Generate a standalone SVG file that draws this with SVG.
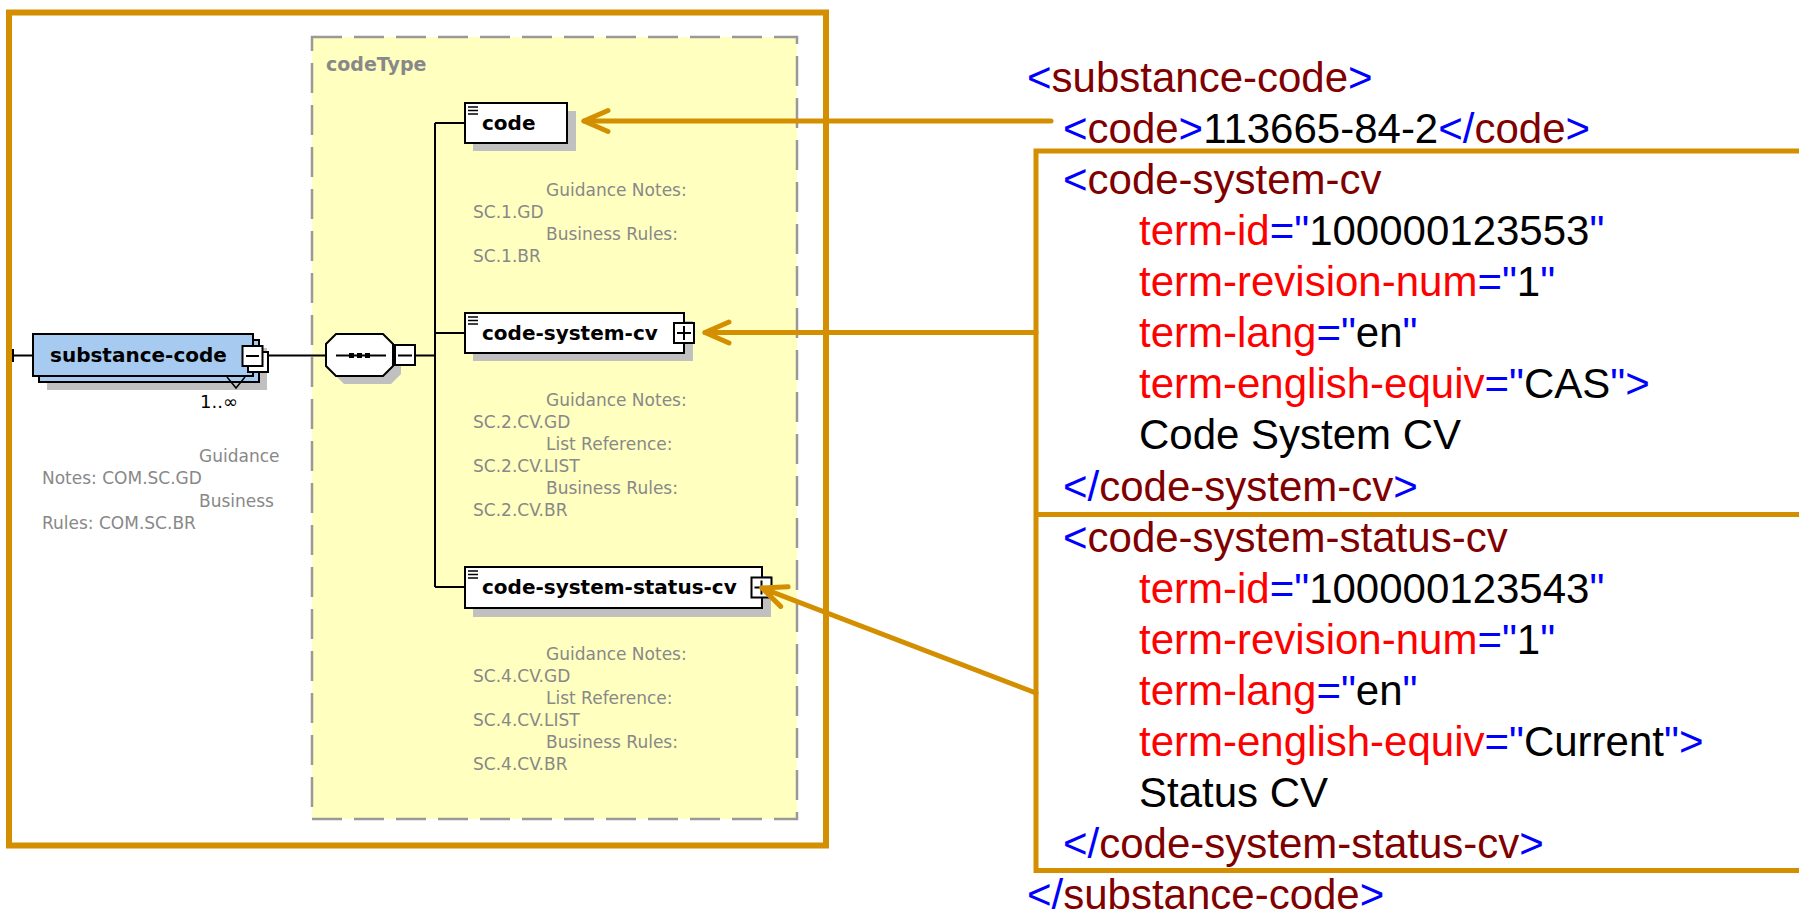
<svg xmlns="http://www.w3.org/2000/svg" width="1799" height="915" viewBox="0 0 1799 915">
<style>
.frame{fill:none;stroke:#D38F00;stroke-width:6}
.obox{fill:none;stroke:#D38F00;stroke-width:5}
.arr{fill:none;stroke:#D38F00;stroke-width:5;stroke-linecap:round}
.ln{fill:none;stroke:#000;stroke-width:2}
.el{fill:#fff;stroke:#000;stroke-width:2}
.sh{fill:#C0C0C0}
.lbl{font-family:"DejaVu Sans",Verdana,sans-serif;font-weight:bold;font-size:20px;fill:#000}
.note{font-family:"DejaVu Sans",Verdana,sans-serif;font-size:17px;fill:#888}
.x{font-family:"Liberation Sans",Arial,sans-serif;font-size:42px;fill:#000}
.b{fill:#0000FF}.m{fill:#800000}.r{fill:#FF0000}.k{fill:#000}
</style>
<defs>
<marker id="ah" markerUnits="userSpaceOnUse" viewBox="-30 -20 40 40" markerWidth="40" markerHeight="40" refX="0" refY="0" orient="auto">
<path d="M -24 -10.5 L 0 0 L -24 10.5" fill="none" stroke="#D38F00" stroke-width="5" stroke-linecap="round" stroke-linejoin="round"/>
</marker>
<g id="menu"><path d="M0 0h10M0 3.5h10M0 7h10" stroke="#000" stroke-width="1.5"/></g>
</defs>
<rect width="1799" height="915" fill="#fff"/>

<g id="frame-left"><rect class="frame" x="9" y="12.5" width="817" height="833"/></g>

<g id="codeType">
<rect x="312" y="37" width="485" height="782" fill="#FFFFC0" stroke="#999" stroke-width="2.5" stroke-dasharray="30 12"/>
<text x="326" y="71" font-family="DejaVu Sans,Verdana,sans-serif" font-weight="bold" font-size="19" fill="#888">codeType</text>
</g>

<g id="connectors-left">
<path class="ln" d="M13 349v13M13 355.5H33"/>
<path class="ln" d="M263 355.5H326"/>
<path class="ln" d="M415 355.5H435M435 123V587M435 123H465M435 333H465M435 587H465"/>
</g>

<g id="substance-code">
<rect class="sh" x="47" y="348" width="220" height="42"/>
<rect x="39" y="340" width="220" height="42" fill="#A6CAF0" stroke="#000" stroke-width="2"/>
<rect x="33" y="334" width="220" height="42" fill="#A6CAF0" stroke="#000" stroke-width="2"/>
<rect class="el" x="248" y="352" width="20" height="20"/>
<rect class="el" x="242.5" y="346" width="20" height="20"/>
<path class="ln" d="M246 356h13"/>
<path d="M227 377L236 388L245 377" fill="none" stroke="#000" stroke-width="1.5"/>
<text class="lbl" x="50" y="362">substance-code</text>
<text x="200" y="408" font-family="DejaVu Sans,Verdana,sans-serif" font-size="18" fill="#000">1..∞</text>
<text class="note" x="199" y="462">Guidance</text>
<text class="note" x="42" y="484">Notes: COM.SC.GD</text>
<text class="note" x="199" y="507">Business</text>
<text class="note" x="42" y="529">Rules: COM.SC.BR</text>
</g>

<g id="sequence">
<path class="sh" d="M344 342H391L401 352V374L391 384H344L334 374V352Z"/>
<path d="M336 334H383L393 344V366L383 376H336L326 366V344Z" fill="#fff" stroke="#000" stroke-width="2"/>
<path class="ln" d="M336 355.5H386"/>
<rect x="349" y="353" width="5" height="5"/><rect x="357" y="353" width="5" height="5"/><rect x="365" y="353" width="5" height="5"/>
<rect class="el" x="395" y="345" width="20" height="20"/>
<path class="ln" d="M398 355.5h14"/>
</g>

<g id="code">
<rect class="sh" x="473" y="111" width="103" height="40"/>
<rect class="el" x="465" y="103" width="102" height="40"/>
<use href="#menu" x="468" y="107"/>
<text class="lbl" x="482" y="130">code</text>
<text class="note" x="546" y="196">Guidance Notes:</text>
<text class="note" x="473" y="218">SC.1.GD</text>
<text class="note" x="546" y="240">Business Rules:</text>
<text class="note" x="473" y="262">SC.1.BR</text>
</g>

<g id="code-system-cv">
<rect class="sh" x="473" y="321" width="220" height="40"/>
<rect class="el" x="465" y="313" width="219" height="40"/>
<rect class="el" x="674" y="323" width="20" height="20"/>
<path class="ln" d="M677 333h14M684 326v14"/>
<use href="#menu" x="468" y="317"/>
<text class="lbl" x="482" y="340">code-system-cv</text>
<text class="note" x="546" y="406">Guidance Notes:</text>
<text class="note" x="473" y="428">SC.2.CV.GD</text>
<text class="note" x="546" y="450">List Reference:</text>
<text class="note" x="473" y="472">SC.2.CV.LIST</text>
<text class="note" x="546" y="494">Business Rules:</text>
<text class="note" x="473" y="516">SC.2.CV.BR</text>
</g>

<g id="code-system-status-cv">
<rect class="sh" x="473" y="576" width="298" height="41"/>
<rect class="el" x="465" y="567" width="297" height="41"/>
<rect class="el" x="751.5" y="577.5" width="20" height="20"/>
<path class="ln" d="M754.5 587.5h14M761.5 580.5v14"/>
<use href="#menu" x="468" y="571"/>
<text class="lbl" x="482" y="594">code-system-status-cv</text>
<text class="note" x="546" y="660">Guidance Notes:</text>
<text class="note" x="473" y="682">SC.4.CV.GD</text>
<text class="note" x="546" y="704">List Reference:</text>
<text class="note" x="473" y="726">SC.4.CV.LIST</text>
<text class="note" x="546" y="748">Business Rules:</text>
<text class="note" x="473" y="770">SC.4.CV.BR</text>
</g>

<g id="xml-boxes">
<path class="obox" d="M1810 151H1036V870.5H1810M1036 514.5H1810"/>
</g>

<g id="connectors">
<path class="arr" d="M1051 121H584" marker-end="url(#ah)"/>
<path class="arr" d="M1036 332.5H705" marker-end="url(#ah)"/>
<path class="arr" d="M1036 693L762 588" marker-end="url(#ah)"/>
</g>

<g id="xml-text" class="x">
<text x="1027" y="91.7"><tspan class="b">&lt;</tspan><tspan class="m">substance-code</tspan><tspan class="b">&gt;</tspan></text>
<text x="1063" y="142.8"><tspan class="b">&lt;</tspan><tspan class="m">code</tspan><tspan class="b">&gt;</tspan><tspan class="k">113665-84-2</tspan><tspan class="b">&lt;/</tspan><tspan class="m">code</tspan><tspan class="b">&gt;</tspan></text>
<text x="1063" y="193.9"><tspan class="b">&lt;</tspan><tspan class="m">code-system-cv</tspan></text>
<text x="1139" y="245"><tspan class="r">term-id</tspan><tspan class="b">="</tspan><tspan class="k">100000123553</tspan><tspan class="b">"</tspan></text>
<text x="1139" y="296.1"><tspan class="r">term-revision-num</tspan><tspan class="b">="</tspan><tspan class="k">1</tspan><tspan class="b">"</tspan></text>
<text x="1139" y="347.2"><tspan class="r">term-lang</tspan><tspan class="b">="</tspan><tspan class="k">en</tspan><tspan class="b">"</tspan></text>
<text x="1139" y="398.3"><tspan class="r">term-english-equiv</tspan><tspan class="b">="</tspan><tspan class="k">CAS</tspan><tspan class="b">"&gt;</tspan></text>
<text x="1139" y="449.4" class="k">Code System CV</text>
<text x="1063" y="500.5"><tspan class="b">&lt;/</tspan><tspan class="m">code-system-cv</tspan><tspan class="b">&gt;</tspan></text>
<text x="1063" y="551.6"><tspan class="b">&lt;</tspan><tspan class="m">code-system-status-cv</tspan></text>
<text x="1139" y="602.7"><tspan class="r">term-id</tspan><tspan class="b">="</tspan><tspan class="k">100000123543</tspan><tspan class="b">"</tspan></text>
<text x="1139" y="653.8"><tspan class="r">term-revision-num</tspan><tspan class="b">="</tspan><tspan class="k">1</tspan><tspan class="b">"</tspan></text>
<text x="1139" y="704.9"><tspan class="r">term-lang</tspan><tspan class="b">="</tspan><tspan class="k">en</tspan><tspan class="b">"</tspan></text>
<text x="1139" y="756"><tspan class="r">term-english-equiv</tspan><tspan class="b">="</tspan><tspan class="k">Current</tspan><tspan class="b">"&gt;</tspan></text>
<text x="1139" y="807.1" class="k">Status CV</text>
<text x="1063" y="858.2"><tspan class="b">&lt;/</tspan><tspan class="m">code-system-status-cv</tspan><tspan class="b">&gt;</tspan></text>
<text x="1027" y="909.3"><tspan class="b">&lt;/</tspan><tspan class="m">substance-code</tspan><tspan class="b">&gt;</tspan></text>
</g>
</svg>
